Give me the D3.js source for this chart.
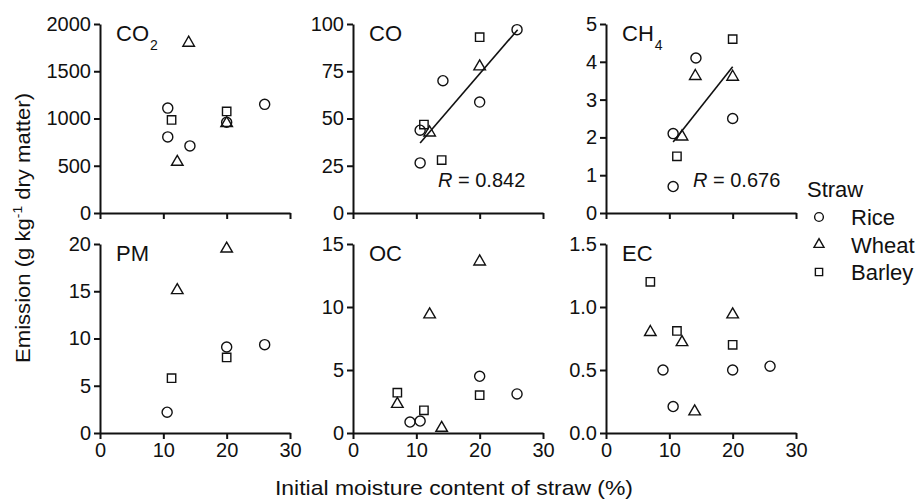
<!DOCTYPE html>
<html>
<head>
<meta charset="utf-8">
<script src="https://cdn.jsdelivr.net/npm/d3@7"></script>
<style>
  body { margin: 0; background: #fff; }
  svg text { font-family: "Liberation Sans", Arial, sans-serif; fill: #111; }
  .axis path, .axis line { stroke: #111; stroke-width: 2; }
  .axis text { font-size: 20px; }
  .pt { fill: none; stroke: #111; stroke-width: 1.4; }
</style>
</head>
<body>
<svg width="919" height="500"></svg>
<script>
// straw types
var straws = ["Rice", "Wheat", "Barley"];
var xTicks = [0, 10, 20, 30];

// [straw, moisture %, emission]
var co2 = [["Rice",10.7,1110],["Rice",10.7,805],["Rice",14.2,710],["Rice",20,960],["Rice",26,1150],
  ["Wheat",14,1800],["Wheat",12.2,540],["Wheat",20,950],
  ["Barley",11.3,985],["Barley",20,1075]];
var co = [["Rice",25.9,97],["Rice",14.2,70],["Rice",20,58.7],["Rice",10.6,43.8],["Rice",10.6,26.5],
  ["Wheat",20,77.5],["Wheat",12.1,42.5],
  ["Barley",20,93],["Barley",11.2,46.8],["Barley",14,28]];
var ch4 = [["Rice",14.2,4.1],["Rice",10.6,2.1],["Rice",20,2.5],["Rice",10.6,0.7],
  ["Wheat",14.1,3.62],["Wheat",20,3.6],["Wheat",12,2.02],
  ["Barley",20,4.6],["Barley",11.2,1.5]];
var pm = [["Rice",20,9.1],["Rice",26,9.35],["Rice",10.6,2.2],
  ["Wheat",20,19.5],["Wheat",12.2,15.1],
  ["Barley",20,8.0],["Barley",11.3,5.8]];
var oc = [["Rice",20,4.5],["Rice",25.9,3.1],["Rice",9,0.87],["Rice",10.6,0.95],
  ["Wheat",20,13.6],["Wheat",12.1,9.4],["Wheat",7,2.3],["Wheat",14,0.4],
  ["Barley",7,3.2],["Barley",20,3.0],["Barley",11.2,1.8]];
var ec = [["Rice",9,0.5],["Rice",10.6,0.21],["Rice",20,0.5],["Rice",25.9,0.53],
  ["Wheat",7,0.8],["Wheat",12,0.72],["Wheat",20,0.94],["Wheat",14,0.17],
  ["Barley",7,1.2],["Barley",11.2,0.81],["Barley",20,0.7]];

// regression lines (end points) and R values
var coFit = [[10.6, 37], [26, 97]];
var ch4Fit = [[10.6, 1.88], [20, 3.87]];

var co2Ticks = [0, 500, 1000, 1500, 2000];
var coTicks = [0, 25, 50, 75, 100];
var ch4Ticks = [0, 1, 2, 3, 4, 5];
var pmTicks = [0, 5, 10, 15, 20];
var ocTicks = [0, 5, 10, 15];
var ecTicks = [0, 0.5, 1.0, 1.5];

var svg = d3.select("svg");
var lefts = [100, 353, 606], tops = [24, 244];
var w = 190, h = 189;

var shapes = { Rice: d3.symbolCircle, Wheat: d3.symbolTriangle, Barley: d3.symbolSquare };
var sizes = { Rice: 80, Wheat: 58, Barley: 70 };

var panels = [
  { data: co2, ticks: co2Ticks, label: "CO", sub: "2", col: 0, row: 0, fmt: d3.format("d") },
  { data: co, ticks: coTicks, label: "CO", col: 1, row: 0, fmt: d3.format("d"), fit: coFit, r: "0.842", rx: 85, ry: 163 },
  { data: ch4, ticks: ch4Ticks, label: "CH", sub: "4", col: 2, row: 0, fmt: d3.format("d"), fit: ch4Fit, r: "0.676", rx: 87, ry: 163 },
  { data: pm, ticks: pmTicks, label: "PM", col: 0, row: 1, fmt: d3.format("d"), xlab: true },
  { data: oc, ticks: ocTicks, label: "OC", col: 1, row: 1, fmt: d3.format("d"), xlab: true },
  { data: ec, ticks: ecTicks, label: "EC", col: 2, row: 1, fmt: d3.format(".1f"), xlab: true }
];

panels.forEach(function(p) {
  var g = svg.append("g")
    .attr("transform", "translate(" + lefts[p.col] + "," + tops[p.row] + ")");
  var x = d3.scaleLinear().domain([0, 30]).range([0, w]);
  var y = d3.scaleLinear().domain([0, d3.max(p.ticks)]).range([h, 0]);

  var xa = d3.axisBottom(x).tickValues(xTicks).tickSize(6).tickSizeOuter(0).tickPadding(4);
  if (!p.xlab) xa.tickFormat("");
  g.append("g").attr("class", "axis").attr("transform", "translate(0," + h + ")").call(xa);
  g.append("g").attr("class", "axis")
    .call(d3.axisLeft(y).tickValues(p.ticks).tickFormat(p.fmt).tickSize(6).tickSizeOuter(0).tickPadding(3));

  var lab = g.append("text").attr("x", 16).attr("y", 17).attr("font-size", "22px").text(p.label);
  if (p.sub) lab.append("tspan").attr("dy", 9).attr("font-size", "14px").attr("dx", 1).text(p.sub);

  if (p.fit) {
    g.append("path")
      .attr("d", d3.line().x(function(d) { return x(d[0]); }).y(function(d) { return y(d[1]); })(p.fit))
      .attr("stroke", "#111").attr("stroke-width", 1.6).attr("fill", "none");
    var t = g.append("text").attr("x", p.rx).attr("y", p.ry).attr("font-size", "20px");
    t.append("tspan").attr("font-style", "italic").text("R");
    t.append("tspan").text(" = " + p.r);
  }

  g.selectAll(".pt").data(p.data).enter().append("path")
    .attr("class", "pt")
    .attr("transform", function(d) { return "translate(" + x(d[1]) + "," + y(d[2]) + ")"; })
    .attr("d", function(d) { return d3.symbol().type(shapes[d[0]]).size(sizes[d[0]])(); });
});

// legend
var lg = svg.append("g").attr("transform", "translate(807,0)");
lg.append("text").attr("x", 0).attr("y", 197).attr("font-size", "22px").text("Straw");
straws.forEach(function(s, i) {
  var yy = 217 + i * 27.5;
  lg.append("path").attr("class", "pt")
    .attr("transform", "translate(12," + yy + ")")
    .attr("d", d3.symbol().type(shapes[s]).size(sizes[s] * 0.75)());
  lg.append("text").attr("x", 44).attr("y", yy + 8).attr("font-size", "22px").text(s);
});

// axis titles
svg.append("text").attr("x", 454).attr("y", 495).attr("text-anchor", "middle")
  .attr("font-size", "21px").attr("textLength", 358).attr("lengthAdjust", "spacingAndGlyphs")
  .text("Initial moisture content of straw (%)");
var yt = svg.append("text").attr("transform", "translate(30,228) rotate(-90)")
  .attr("text-anchor", "middle").attr("font-size", "21px")
  .attr("textLength", 270).attr("lengthAdjust", "spacingAndGlyphs");
yt.append("tspan").text("Emission (g kg");
yt.append("tspan").attr("dy", -8).attr("font-size", "13px").text("-1");
yt.append("tspan").attr("dy", 8).text(" dry matter)");
</script>
</body>
</html>
